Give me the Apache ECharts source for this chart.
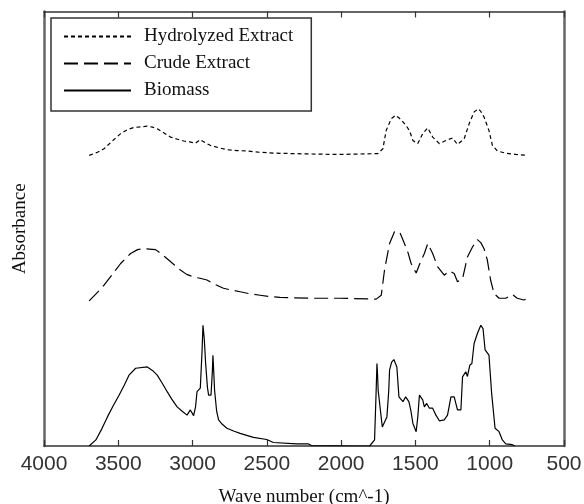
<!DOCTYPE html>
<html>
<head>
<meta charset="utf-8">
<script src="https://cdn.jsdelivr.net/npm/echarts@6/dist/echarts.min.js"></script>
<style>html,body{margin:0;padding:0;background:#fff;}#c{width:584px;height:504px;}</style>
</head>
<body>
<div id="c"></div>
<script>
var xTicks = [4000, 3500, 3000, 2500, 2000, 1500, 1000, 500];
var seriesNames = ['Hydrolyzed Extract', 'Crude Extract', 'Biomass'];

var hydroWn = [3696,3640,3596,3540,3484,3440,3395,3305,3270,3238,3190,3149,3100,3060,3020,2981,2948,2915,2881,2820,2769,2700,2635,2550,2456,2200,2010,1753,1719,1697,1663,1634,1610,1584,1560,1540,1517,1484,1451,1417,1384,1339,1295,1250,1217,1172,1138,1105,1076,1060,1038,1005,982,949,892,825,748];
var hydroAbs = [66.9,67.6,68.4,70.2,71.9,72.8,73.3,73.6,73.4,73.0,72.0,71.1,70.6,70.2,70.0,69.7,70.5,69.8,69.2,68.6,68.2,68.0,67.9,67.6,67.4,67.2,67.1,67.3,68.4,72.6,75.3,76.1,75.5,74.6,73.6,72.6,70.3,69.6,71.9,73.2,71.1,69.6,70.3,70.9,69.4,70.7,74.2,76.9,77.6,77.0,75.7,72.6,69.2,67.9,67.4,67.1,66.9];

var crudeWn = [3696,3650,3596,3540,3484,3417,3370,3328,3249,3210,3171,3120,3082,3040,2993,2950,2903,2850,2792,2740,2680,2610,2546,2480,2412,2200,2010,1764,1730,1708,1674,1641,1607,1574,1550,1529,1495,1470,1440,1417,1384,1350,1306,1272,1239,1217,1183,1150,1116,1083,1060,1038,1016,994,971,937,892,848,815,771,737];
var crudeAbs = [33.4,35.0,37.0,39.5,42.0,44.3,45.2,45.4,45.2,44.2,43.1,41.6,40.5,39.5,38.9,38.6,38.2,37.2,36.3,35.9,35.5,35.0,34.7,34.4,34.2,34.0,34.0,33.8,34.7,40.5,46.6,49.3,49.3,46.6,44.5,42.0,39.8,42.0,44.3,46.6,44.3,41.2,39.3,40.3,39.7,37.8,38.5,43.5,45.8,47.5,46.8,45.4,42.8,38.2,35.1,34.0,34.0,34.9,34.0,33.6,34.0];

var bioWn = [3696,3651,3610,3573,3535,3495,3460,3428,3383,3305,3270,3238,3205,3171,3140,3104,3070,3037,3015,2993,2980,2970,2948,2936,2930,2921,2912,2900,2892,2876,2867,2863,2858,2852,2838,2825,2800,2769,2720,2680,2630,2590,2501,2456,2300,2222,2200,1909,1808,1775,1765,1759,1755,1751,1745,1735,1723,1710,1692,1680,1674,1660,1645,1625,1611,1584,1566,1544,1530,1517,1495,1484,1473,1451,1440,1424,1406,1384,1362,1339,1306,1284,1261,1239,1217,1194,1183,1161,1150,1134,1120,1105,1083,1060,1045,1031,1005,987,964,937,915,892,848,830];
var bioAbs = [0,1.4,4.0,6.7,9.2,11.7,14.0,16.3,17.9,18.2,17.4,16.3,14.5,12.5,10.8,9.0,8.0,7.1,8.3,7.0,9.0,12.5,13.3,22.0,27.8,24.5,19.0,13.5,11.7,11.7,17.0,20.9,17.5,12.9,8.0,6.0,5.0,4.1,3.4,2.9,2.4,2.0,1.5,0.8,0.5,0.5,0.1,0.0,0.0,1.4,12.0,19.0,16.5,12.9,12.9,8.0,4.4,4.4,6.7,12.5,17.5,19.3,19.9,18.2,11.3,10.2,11.3,10.2,8.0,5.2,3.3,6.7,11.7,10.6,9.0,9.8,8.7,8.7,7.1,5.8,6.0,7.1,11.3,11.3,8.3,8.3,15.9,17.1,16.0,18.6,19.0,23.6,25.9,27.8,27.0,22.1,20.9,12.1,4.1,3.3,1.4,0.5,0.3,0.0];

function zip(a, b) { return a.map(function (v, i) { return [v, b[i]]; }); }

var chart = echarts.init(document.getElementById('c'), null, {renderer: 'canvas'});
var serifFont = '"Liberation Serif", "Times New Roman", serif';
var sansFont = '"Liberation Sans", Arial, sans-serif';

function xAx(pos, showLabel) {
  return {
    type: 'value', position: pos, inverse: true,
    min: 500, max: 4000, interval: 500,
    name: pos === 'bottom' ? 'Wave number (cm^-1)' : '',
    nameLocation: 'middle', nameGap: 42,
    nameTextStyle: {fontFamily: serifFont, fontSize: 19, color: '#111'},
    axisLine: {show: true, onZero: false, lineStyle: {color: '#333', width: 1.5}},
    axisTick: {show: true, inside: true, length: 6, lineStyle: {color: '#333', width: 1.2}},
    axisLabel: {show: showLabel, margin: 8, fontFamily: sansFont, fontSize: 21, color: '#333',
      formatter: function (v) { return xTicks.indexOf(v) >= 0 ? String(v) : ''; }},
    splitLine: {show: false}
  };
}
function yAx(pos) {
  return {
    type: 'value', position: pos, min: 0, max: 100,
    name: pos === 'left' ? 'Absorbance' : '',
    nameLocation: 'middle', nameGap: 14, nameRotate: 90,
    nameTextStyle: {fontFamily: serifFont, fontSize: 19, color: '#111'},
    axisLine: {show: true, onZero: false, lineStyle: {color: '#666', width: 2.5}},
    axisTick: {show: false}, axisLabel: {show: false}, splitLine: {show: false}
  };
}

var lineSeries = function (name, data, dash) {
  return {
    name: name, type: 'line', data: data, symbol: 'none', showSymbol: false,
    xAxisIndex: 0, yAxisIndex: 0,
    lineStyle: {color: '#000', width: 1.2, type: dash},
    itemStyle: {color: '#000'}
  };
};

chart.setOption({
  animation: false,
  backgroundColor: '#fff',
  grid: {left: 44, right: 20, top: 11.5, bottom: 58, containLabel: false, outerBoundsMode: 'none'},
  xAxis: [xAx('bottom', true), xAx('top', false)],
  yAxis: [yAx('left'), yAx('right')],
  legend: {
    data: seriesNames, orient: 'vertical', left: 51, top: 18,
    padding: [9, 18, 11, 12], itemGap: 8, itemWidth: 67, itemHeight: 20,
    backgroundColor: '#fff', borderColor: '#333', borderWidth: 1.5,
    itemStyle: {opacity: 0, borderWidth: 0},
    textStyle: {fontFamily: serifFont, fontSize: 19, color: '#111', padding: [0, 0, 0, 8]},
    selectedMode: false
  },
  series: [
    lineSeries(seriesNames[0], zip(hydroWn, hydroAbs), [4, 3]),
    lineSeries(seriesNames[1], zip(crudeWn, crudeAbs), [14, 6]),
    lineSeries(seriesNames[2], zip(bioWn, bioAbs), 'solid')
  ]
});
</script>
</body>
</html>
